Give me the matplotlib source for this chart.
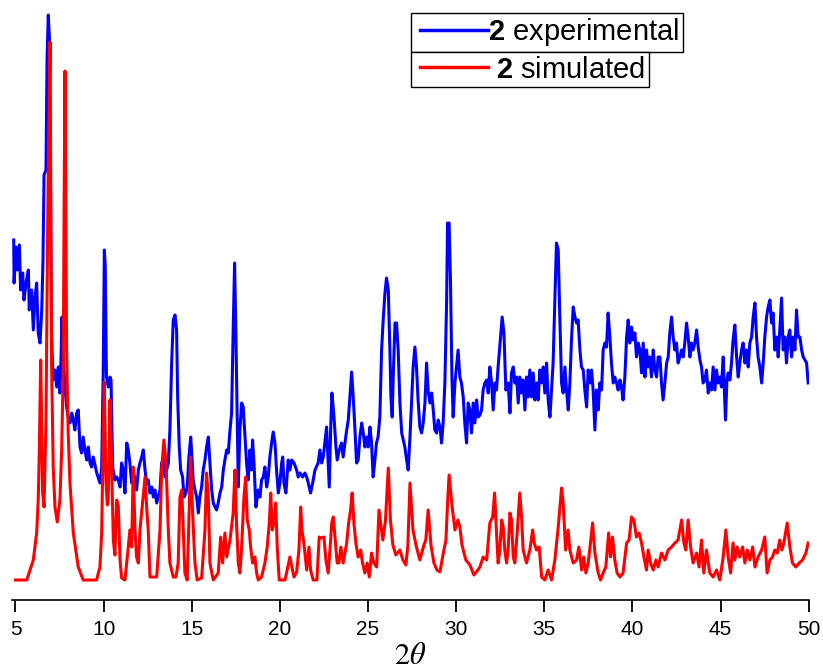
import numpy as np
import matplotlib
matplotlib.use("Agg")
import matplotlib.pyplot as plt
from matplotlib.legend_handler import HandlerLine2D

# ---------------- data ----------------
# Experimental pattern of compound 2 (2-theta in degrees, intensity in a.u.)
exp_2theta = [
    4.90, 4.92, 5.03, 5.10, 5.22, 5.29, 5.41, 5.48, 5.60, 5.73,
    5.78, 5.92, 6.01, 6.11, 6.20, 6.29, 6.39, 6.49, 6.56, 6.62,
    6.73, 6.79, 6.86, 6.93, 6.99, 7.04, 7.13, 7.24, 7.34, 7.43,
    7.52, 7.58, 7.64, 7.71, 7.81, 7.90, 7.99, 8.09, 8.19, 8.28,
    8.37, 8.47, 8.56, 8.66, 8.75, 8.84, 8.94, 9.04, 9.13, 9.23,
    9.32, 9.41, 9.61, 9.79, 9.89, 9.98, 10.04, 10.09, 10.16, 10.26,
    10.36, 10.42, 10.51, 10.64, 10.74, 10.83, 10.93, 11.02, 11.11, 11.21,
    11.31, 11.40, 11.49, 11.59, 11.68, 11.87, 11.97, 12.06, 12.16, 12.25,
    12.35, 12.44, 12.53, 12.63, 12.73, 12.82, 12.91, 13.01, 13.10, 13.20,
    13.29, 13.38, 13.48, 13.67, 13.76, 13.86, 13.95, 14.05, 14.14, 14.20,
    14.29, 14.37, 14.48, 14.56, 14.67, 14.74, 14.84, 14.94, 15.01, 15.08,
    15.18, 15.28, 15.37, 15.46, 15.56, 15.65, 15.75, 15.84, 15.94, 16.03,
    16.13, 16.22, 16.32, 16.41, 16.50, 16.60, 16.70, 16.79, 16.88, 16.98,
    17.07, 17.17, 17.26, 17.35, 17.43, 17.50, 17.58, 17.64, 17.73, 17.83,
    17.92, 18.02, 18.11, 18.20, 18.30, 18.39, 18.45, 18.53, 18.64, 18.77,
    18.87, 18.96, 19.06, 19.15, 19.25, 19.34, 19.43, 19.53, 19.62, 19.72,
    19.81, 19.91, 20.00, 20.10, 20.16, 20.23, 20.34, 20.47, 20.57, 20.67,
    20.80, 20.95, 21.04, 21.14, 21.29, 21.42, 21.52, 21.61, 21.74, 21.86,
    21.99, 22.17, 22.27, 22.37, 22.46, 22.55, 22.65, 22.74, 22.80, 22.88,
    22.95, 23.07, 23.18, 23.25, 23.37, 23.50, 23.59, 23.69, 23.79, 23.88,
    23.97, 24.07, 24.16, 24.26, 24.35, 24.44, 24.54, 24.64, 24.73, 24.82,
    24.92, 25.01, 25.11, 25.20, 25.29, 25.39, 25.48, 25.57, 25.67, 25.77,
    25.86, 25.96, 26.05, 26.15, 26.24, 26.30, 26.37, 26.43, 26.53, 26.62,
    26.71, 26.81, 26.91, 27.00, 27.09, 27.19, 27.28, 27.38, 27.47, 27.56,
    27.66, 27.75, 27.84, 27.94, 28.04, 28.13, 28.23, 28.32, 28.41, 28.51,
    28.61, 28.70, 28.79, 28.89, 28.98, 29.08, 29.17, 29.26, 29.36, 29.46,
    29.51, 29.60, 29.68, 29.76, 29.83, 29.93, 30.02, 30.11, 30.21, 30.30,
    30.40, 30.49, 30.59, 30.68, 30.78, 30.87, 30.97, 31.06, 31.16, 31.25,
    31.35, 31.44, 31.53, 31.63, 31.73, 31.82, 31.91, 32.01, 32.10, 32.20,
    32.29, 32.38, 32.52, 32.61, 32.71, 32.82, 32.95, 33.05, 33.14, 33.24,
    33.33, 33.43, 33.52, 33.61, 33.71, 33.80, 33.90, 33.99, 34.08, 34.18,
    34.28, 34.37, 34.47, 34.56, 34.65, 34.75, 34.85, 34.94, 35.03, 35.13,
    35.22, 35.32, 35.41, 35.50, 35.60, 35.69, 35.79, 35.88, 35.98, 36.07,
    36.17, 36.26, 36.36, 36.45, 36.55, 36.64, 36.74, 36.83, 36.92, 37.02,
    37.11, 37.21, 37.30, 37.40, 37.49, 37.59, 37.68, 37.77, 37.87, 37.96,
    38.06, 38.15, 38.25, 38.34, 38.44, 38.53, 38.62, 38.72, 38.81, 38.91,
    39.00, 39.10, 39.19, 39.29, 39.38, 39.47, 39.57, 39.67, 39.76, 39.85,
    39.95, 40.04, 40.14, 40.23, 40.33, 40.42, 40.52, 40.61, 40.71, 40.80,
    40.89, 40.99, 41.08, 41.18, 41.27, 41.37, 41.46, 41.56, 41.65, 41.74,
    41.84, 41.94, 42.03, 42.12, 42.22, 42.31, 42.41, 42.50, 42.59, 42.69,
    42.79, 42.88, 42.97, 43.07, 43.16, 43.26, 43.35, 43.44, 43.54, 43.64,
    43.73, 43.83, 43.92, 44.01, 44.11, 44.20, 44.30, 44.39, 44.49, 44.58,
    44.68, 44.77, 44.86, 44.96, 45.05, 45.15, 45.20, 45.28, 45.36, 45.43,
    45.53, 45.62, 45.71, 45.81, 45.91, 46.00, 46.09, 46.19, 46.28, 46.38,
    46.47, 46.57, 46.66, 46.76, 46.85, 46.95, 47.04, 47.13, 47.23, 47.33,
    47.42, 47.51, 47.61, 47.70, 47.80, 47.89, 47.98, 48.08, 48.18, 48.27,
    48.36, 48.46, 48.55, 48.65, 48.74, 48.84, 48.93, 49.03, 49.12, 49.22,
    49.31, 49.40, 49.50, 49.60, 49.69, 49.79, 49.88, 49.97,
]
exp_counts = [
    360, 317, 353, 330, 355, 310, 327, 300, 317, 330,
    290, 310, 270, 303, 317, 267, 257, 290, 340, 425,
    430, 540, 585, 560, 400, 270, 220, 230, 213, 233,
    207, 240, 283, 240, 213, 193, 183, 177, 187, 180,
    170, 187, 190, 153, 147, 163, 150, 140, 153, 137,
    133, 143, 127, 117, 133, 233, 350, 335, 223, 213,
    223, 220, 133, 120, 123, 120, 113, 137, 130, 107,
    157, 150, 137, 117, 130, 110, 130, 137, 143, 150,
    130, 117, 120, 107, 113, 103, 110, 97, 103, 110,
    137, 140, 123, 137, 170, 237, 280, 285, 270, 203,
    153, 130, 123, 103, 107, 113, 143, 163, 143, 120,
    110, 103, 87, 103, 113, 130, 140, 153, 163, 137,
    110, 97, 93, 90, 97, 107, 113, 130, 140, 150,
    147, 170, 187, 270, 337, 270, 180, 113, 170, 197,
    193, 163, 137, 120, 150, 130, 160, 137, 93, 110,
    103, 120, 123, 133, 113, 123, 143, 157, 168, 157,
    130, 107, 117, 137, 143, 117, 107, 140, 130, 140,
    137, 130, 123, 127, 123, 127, 123, 117, 107, 117,
    130, 137, 150, 137, 143, 157, 173, 137, 113, 170,
    207, 183, 153, 140, 150, 157, 143, 157, 170, 180,
    203, 228, 203, 170, 137, 140, 163, 177, 167, 153,
    163, 153, 173, 157, 123, 140, 157, 163, 183, 250,
    280, 307, 322, 310, 250, 203, 183, 223, 277, 277,
    250, 197, 167, 160, 153, 140, 130, 163, 197, 233,
    253, 233, 200, 173, 167, 177, 197, 237, 210, 197,
    207, 190, 170, 167, 180, 173, 157, 177, 217, 300,
    377, 377, 317, 223, 183, 217, 233, 250, 223, 217,
    203, 177, 157, 197, 190, 167, 197, 177, 200, 183,
    185, 190, 210, 217, 220, 207, 233, 217, 190, 217,
    210, 233, 263, 283, 267, 210, 217, 187, 227, 233,
    217, 223, 197, 223, 207, 220, 190, 223, 203, 230,
    203, 227, 200, 217, 200, 230, 217, 233, 207, 237,
    200, 183, 210, 237, 300, 357, 350, 283, 217, 207,
    233, 210, 190, 217, 263, 293, 283, 277, 280, 250,
    233, 230, 210, 193, 230, 217, 230, 210, 170, 210,
    190, 217, 210, 250, 257, 253, 287, 263, 237, 217,
    223, 217, 210, 220, 213, 200, 223, 263, 280, 257,
    273, 260, 267, 243, 257, 250, 227, 257, 223, 250,
    233, 243, 223, 250, 230, 223, 243, 243, 217, 200,
    217, 237, 243, 267, 283, 263, 250, 257, 237, 243,
    250, 243, 257, 277, 263, 243, 257, 250, 257, 270,
    253, 240, 233, 217, 220, 230, 207, 217, 210, 233,
    210, 230, 217, 223, 213, 243, 217, 180, 220, 227,
    220, 237, 260, 275, 243, 223, 237, 250, 257, 237,
    250, 233, 257, 263, 283, 297, 263, 243, 233, 217,
    237, 263, 283, 293, 300, 277, 287, 250, 263, 243,
    270, 302, 250, 263, 237, 263, 270, 243, 263, 250,
    290, 263, 263, 250, 243, 240, 237, 217,
]

# Simulated pattern of compound 2
sim_2theta = [
    5.00, 5.64, 6.01, 6.20, 6.29, 6.35, 6.43, 6.50, 6.54, 6.62,
    6.73, 6.84, 6.96, 7.05, 7.14, 7.24, 7.37, 7.52, 7.62, 7.71,
    7.76, 7.81, 7.90, 7.99, 8.09, 8.28, 8.56, 8.84, 9.60, 9.79,
    9.89, 9.98, 10.04, 10.13, 10.21, 10.26, 10.36, 10.46, 10.55, 10.64,
    10.74, 10.83, 10.93, 11.02, 11.21, 11.40, 11.49, 11.59, 11.68, 11.78,
    11.87, 11.97, 12.06, 12.35, 12.44, 12.53, 12.63, 13.01, 13.20, 13.29,
    13.42, 13.54, 13.67, 13.76, 13.95, 14.10, 14.23, 14.33, 14.43, 14.52,
    14.61, 14.74, 14.85, 14.93, 15.05, 15.18, 15.31, 15.56, 15.75, 15.84,
    15.94, 16.03, 16.22, 16.50, 16.64, 16.75, 16.88, 16.98, 17.17, 17.35,
    17.45, 17.54, 17.64, 17.73, 17.83, 17.96, 18.06, 18.15, 18.26, 18.34,
    18.45, 18.58, 18.68, 18.77, 18.96, 19.15, 19.28, 19.40, 19.48, 19.57,
    19.66, 19.76, 19.85, 19.96, 20.29, 20.57, 20.68, 20.80, 20.95, 21.08,
    21.18, 21.25, 21.36, 21.52, 21.65, 21.74, 21.89, 22.10, 22.23, 22.37,
    22.50, 22.61, 22.74, 22.84, 22.94, 23.03, 23.14, 23.25, 23.35, 23.46,
    23.59, 23.79, 23.90, 24.01, 24.10, 24.20, 24.31, 24.44, 24.58, 24.69,
    24.82, 24.95, 25.07, 25.20, 25.33, 25.49, 25.62, 25.84, 25.99, 26.15,
    26.27, 26.41, 26.58, 26.81, 26.98, 27.15, 27.26, 27.38, 27.55, 27.72,
    27.94, 28.17, 28.28, 28.41, 28.57, 28.74, 28.91, 29.08, 29.25, 29.42,
    29.52, 29.60, 29.76, 29.93, 30.10, 30.21, 30.33, 30.55, 30.78, 31.01,
    31.23, 31.35, 31.53, 31.73, 31.91, 32.07, 32.18, 32.29, 32.38, 32.48,
    32.58, 32.67, 32.76, 32.86, 32.95, 33.05, 33.14, 33.24, 33.33, 33.46,
    33.61, 33.71, 33.80, 33.99, 34.18, 34.34, 34.43, 34.56, 34.71, 34.85,
    35.03, 35.22, 35.41, 35.60, 35.79, 35.98, 36.07, 36.21, 36.35, 36.45,
    36.64, 36.83, 36.96, 37.12, 37.24, 37.36, 37.49, 37.62, 37.74, 37.87,
    38.06, 38.19, 38.34, 38.49, 38.65, 38.76, 38.87, 39.00, 39.13, 39.29,
    39.47, 39.67, 39.81, 39.95, 40.08, 40.23, 40.38, 40.52, 40.65, 40.80,
    40.89, 41.03, 41.18, 41.33, 41.46, 41.65, 41.84, 42.03, 42.22, 42.41,
    42.59, 42.79, 42.92, 43.03, 43.16, 43.30, 43.44, 43.64, 43.78, 43.92,
    44.05, 44.20, 44.39, 44.58, 44.77, 44.96, 45.15, 45.30, 45.43, 45.57,
    45.71, 45.81, 45.94, 46.09, 46.25, 46.38, 46.51, 46.66, 46.82, 46.95,
    47.13, 47.33, 47.51, 47.64, 47.80, 47.95, 48.08, 48.22, 48.36, 48.48,
    48.59, 48.78, 48.93, 49.08, 49.27, 49.46, 49.65, 49.84, 49.97,
]
sim_counts = [
    20, 20, 40, 67, 100, 147, 240, 160, 107, 93,
    180, 400, 558, 233, 133, 93, 78, 100, 150, 233,
    400, 529, 250, 167, 117, 67, 33, 20, 20, 33,
    67, 167, 218, 120, 95, 100, 200, 130, 60, 45,
    100, 95, 40, 22, 20, 53, 70, 53, 133, 70,
    43, 37, 70, 123, 93, 70, 23, 23, 70, 130,
    160, 137, 70, 37, 23, 23, 37, 103, 110, 70,
    27, 20, 87, 143, 87, 37, 20, 22, 70, 127,
    103, 37, 20, 27, 63, 37, 67, 43, 60, 87,
    130, 77, 37, 27, 53, 103, 123, 80, 70, 53,
    37, 43, 27, 20, 23, 37, 53, 77, 107, 70,
    77, 97, 53, 20, 20, 43, 33, 23, 28, 50,
    93, 70, 57, 30, 53, 30, 20, 20, 63, 62,
    63, 40, 27, 50, 77, 83, 60, 37, 37, 53,
    37, 57, 77, 90, 107, 77, 57, 43, 50, 37,
    27, 37, 23, 47, 37, 33, 90, 60, 80, 132,
    80, 55, 45, 50, 40, 35, 55, 117, 70, 55,
    40, 55, 60, 90, 55, 37, 30, 28, 45, 60,
    100, 125, 95, 70, 80, 73, 55, 40, 35, 25,
    30, 33, 43, 40, 77, 83, 107, 67, 37, 50,
    80, 73, 50, 37, 50, 87, 80, 43, 37, 67,
    107, 83, 50, 37, 50, 70, 57, 50, 53, 23,
    20, 30, 20, 40, 73, 112, 97, 50, 70, 50,
    37, 40, 53, 30, 43, 27, 37, 57, 77, 47,
    27, 20, 27, 33, 67, 43, 63, 40, 27, 23,
    27, 57, 60, 83, 80, 63, 67, 57, 43, 30,
    50, 37, 30, 40, 33, 47, 40, 50, 53, 57,
    60, 80, 57, 50, 80, 53, 37, 47, 33, 60,
    27, 50, 27, 23, 30, 20, 43, 70, 43, 27,
    57, 40, 53, 43, 53, 37, 50, 40, 53, 33,
    43, 50, 63, 27, 40, 43, 50, 47, 60, 50,
    57, 77, 53, 37, 33, 37, 40, 47, 57,
]

x_ticks = [5, 10, 15, 20, 25, 30, 35, 40, 45, 50]
series_labels = [r"$\mathbf{2}$ experimental", r" $\mathbf{2}$ simulated"]
x_label = r"$2\theta$"

# ---------------- styling ----------------
plt.rcParams['font.family'] = ['Liberation Sans', 'DejaVu Sans']
plt.rcParams['mathtext.fontset'] = 'custom'
plt.rcParams['mathtext.rm'] = 'Liberation Sans'
plt.rcParams['mathtext.it'] = 'Liberation Sans:italic'
plt.rcParams['mathtext.bf'] = 'Liberation Sans:bold'

W, H = 823, 671
fig = plt.figure(figsize=(W / 100, H / 100), dpi=100)
ax = fig.add_axes([11.97 / W, 71 / H, (808.7 - 11.97) / W, 600 / H])

line_exp, = ax.plot(exp_2theta, exp_counts, color='#0000ff', lw=2.2,
                    solid_joinstyle='round')
line_sim, = ax.plot(sim_2theta, sim_counts, color='#ff0000', lw=2.2,
                    solid_joinstyle='round')

ax.set_xlim(4.8, 50)
ax.set_ylim(0, 600)
for s in ['left', 'right', 'top']:
    ax.spines[s].set_visible(False)
ax.spines['bottom'].set_linewidth(1.2)
ax.set_yticks([])
ax.set_xticks(x_ticks)
ax.set_xticklabels([str(t) for t in x_ticks])
ax.tick_params(axis='x', direction='out', length=8.6, width=1.3,
               labelsize=15, pad=6)
ax.set_xlabel(x_label, fontsize=22, math_fontfamily='stix', labelpad=1.5)


class LeadLineHandler(HandlerLine2D):
    """Legend line handle that starts a little to the right of the box edge."""

    def __init__(self, lead, **kw):
        super().__init__(**kw)
        self.lead = lead

    def get_xdata(self, legend, xdescent, ydescent, width, height, fontsize):
        xdata, xm = super().get_xdata(legend, xdescent, ydescent, width,
                                      height, fontsize)
        xdata = np.asarray(xdata, dtype=float).copy()
        xdata[0] = xdata[0] + self.lead * fontsize
        return xdata, xm


LEG_FS = 21
common = dict(loc='upper left', bbox_transform=fig.transFigure, frameon=True,
              fancybox=False, edgecolor='black', framealpha=1,
              fontsize=LEG_FS, handlelength=2.52, handletextpad=0.0,
              borderpad=0.12, borderaxespad=0,
              handler_map={line_exp: LeadLineHandler(0.19),
                           line_sim: LeadLineHandler(0.19)})
leg1 = fig.legend([line_exp], [series_labels[0]],
                  bbox_to_anchor=(411 / W, 1 - 13 / H), **common)
leg1.get_frame().set_linewidth(1.0)
leg1.get_lines()[0].set_linewidth(2.5)

# place the second box directly under the first one (shared border)
fig.canvas.draw()
bb = leg1.get_window_extent()
leg2 = fig.legend([line_sim], [series_labels[1]],
                  bbox_to_anchor=(411 / W, bb.y0 / (fig.dpi * fig.get_figheight())),
                  **common)
leg2.get_frame().set_linewidth(1.0)
leg2.get_lines()[0].set_linewidth(2.5)

fig.savefig('out.png', dpi=100)
